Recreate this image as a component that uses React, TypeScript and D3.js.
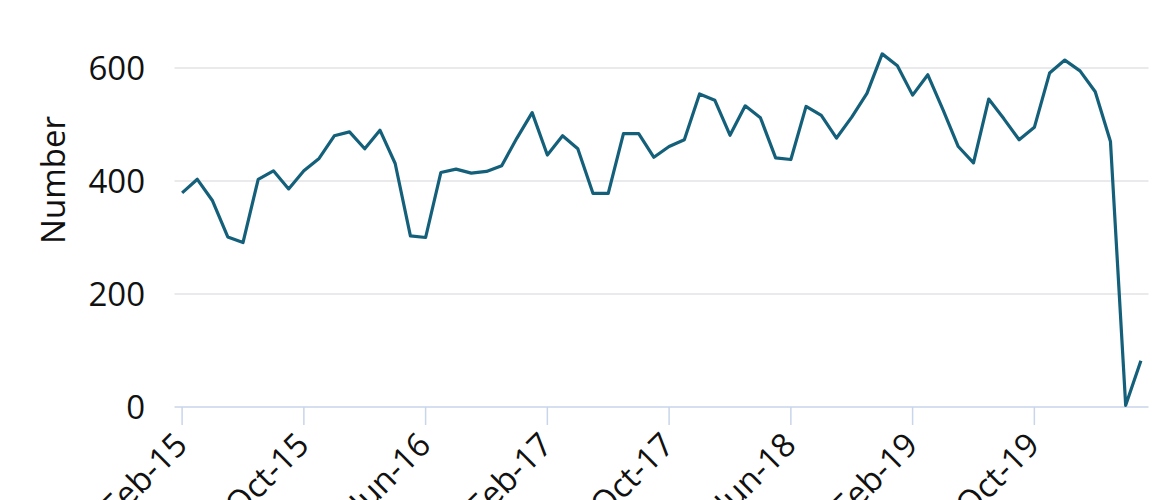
import React from "react";
import * as d3 from "d3";

const months = ["Jan","Feb","Mar","Apr","May","Jun","Jul","Aug","Sep","Oct","Nov","Dec"];
// Monthly categories Feb-15 .. May-20
const categories: string[] = (() => {
  const out: string[] = [];
  let m = 1, y = 15;
  for (let i = 0; i < 64; i++) {
    out.push(`${months[m]}-${y}`);
    m++;
    if (m === 12) { m = 0; y++; }
  }
  return out;
})();

const values: number[] = [
  379, 403, 365, 301, 291, 403, 418, 386, 418, 440, 480, 487, 457, 490, 431, 303,
  300, 415, 421, 414, 417, 427, 476, 521, 446, 480, 457, 378, 378, 484, 484, 442,
  461, 473, 554, 543, 481, 533, 512, 441, 438, 532, 516, 476, 513, 555, 625, 604,
  552, 588, 526, 461, 432, 545, 510, 473, 495, 591, 614, 595, 558, 470, 3, 82,
];

const tickLabels = ["Feb-15","Oct-15","Jun-16","Feb-17","Oct-17","Jun-18","Feb-19","Oct-19"];
const yTicks = [0, 200, 400, 600];

const W = 1170, H = 500;
const left = 174.5, right = 1148.5;
const y0 = 407, yTop = 11.5;
const FONT = "'Open Sans', sans-serif";
const FS = 33;

export default function App() {
  const x = d3.scalePoint<string>().domain(categories).range([left, right]).padding(0.5);
  const y = d3.scaleLinear().domain([0, 700]).range([y0, yTop]);
  const line = d3.line<number>().x((_, i) => x(categories[i])!).y(d => y(d));

  return (
    <svg width={W} height={H} style={{ position: "absolute", left: 0, top: 0 }}>
      <rect width={W} height={H} fill="#fff" />
      {yTicks.map(t => (
        <g key={t}>
          {t !== 0 && <line x1={left} x2={right} y1={y(t)} y2={y(t)} stroke="#e3e3e6" strokeWidth={1.5} />}
          <text x={145} y={y(t)} dy="0.35em" textAnchor="end" fontFamily={FONT} fontSize={FS} fill="#111">{t}</text>
        </g>
      ))}
      <line x1={left} x2={right} y1={y0} y2={y0} stroke="#c9d5ea" strokeWidth={1.5} />
      {tickLabels.map(l => {
        const tx = x(l)!;
        return (
          <g key={l}>
            <line x1={tx} x2={tx} y1={y0} y2={y0 + 18} stroke="#c9d5ea" strokeWidth={1.5} />
            <text transform={`translate(${tx + 7},${447}) rotate(-45)`} textAnchor="end"
              fontFamily={FONT} fontSize={FS} fill="#111">{l}</text>
          </g>
        );
      })}
      <text transform={`translate(53,180) rotate(-90)`} textAnchor="middle" dy="0.35em"
        fontFamily={FONT} fontSize={FS} fill="#111">Number</text>
      <path d={line(values)!} fill="none" stroke="#14607a" strokeWidth={3.2} strokeLinejoin="round" />
    </svg>
  );
}
